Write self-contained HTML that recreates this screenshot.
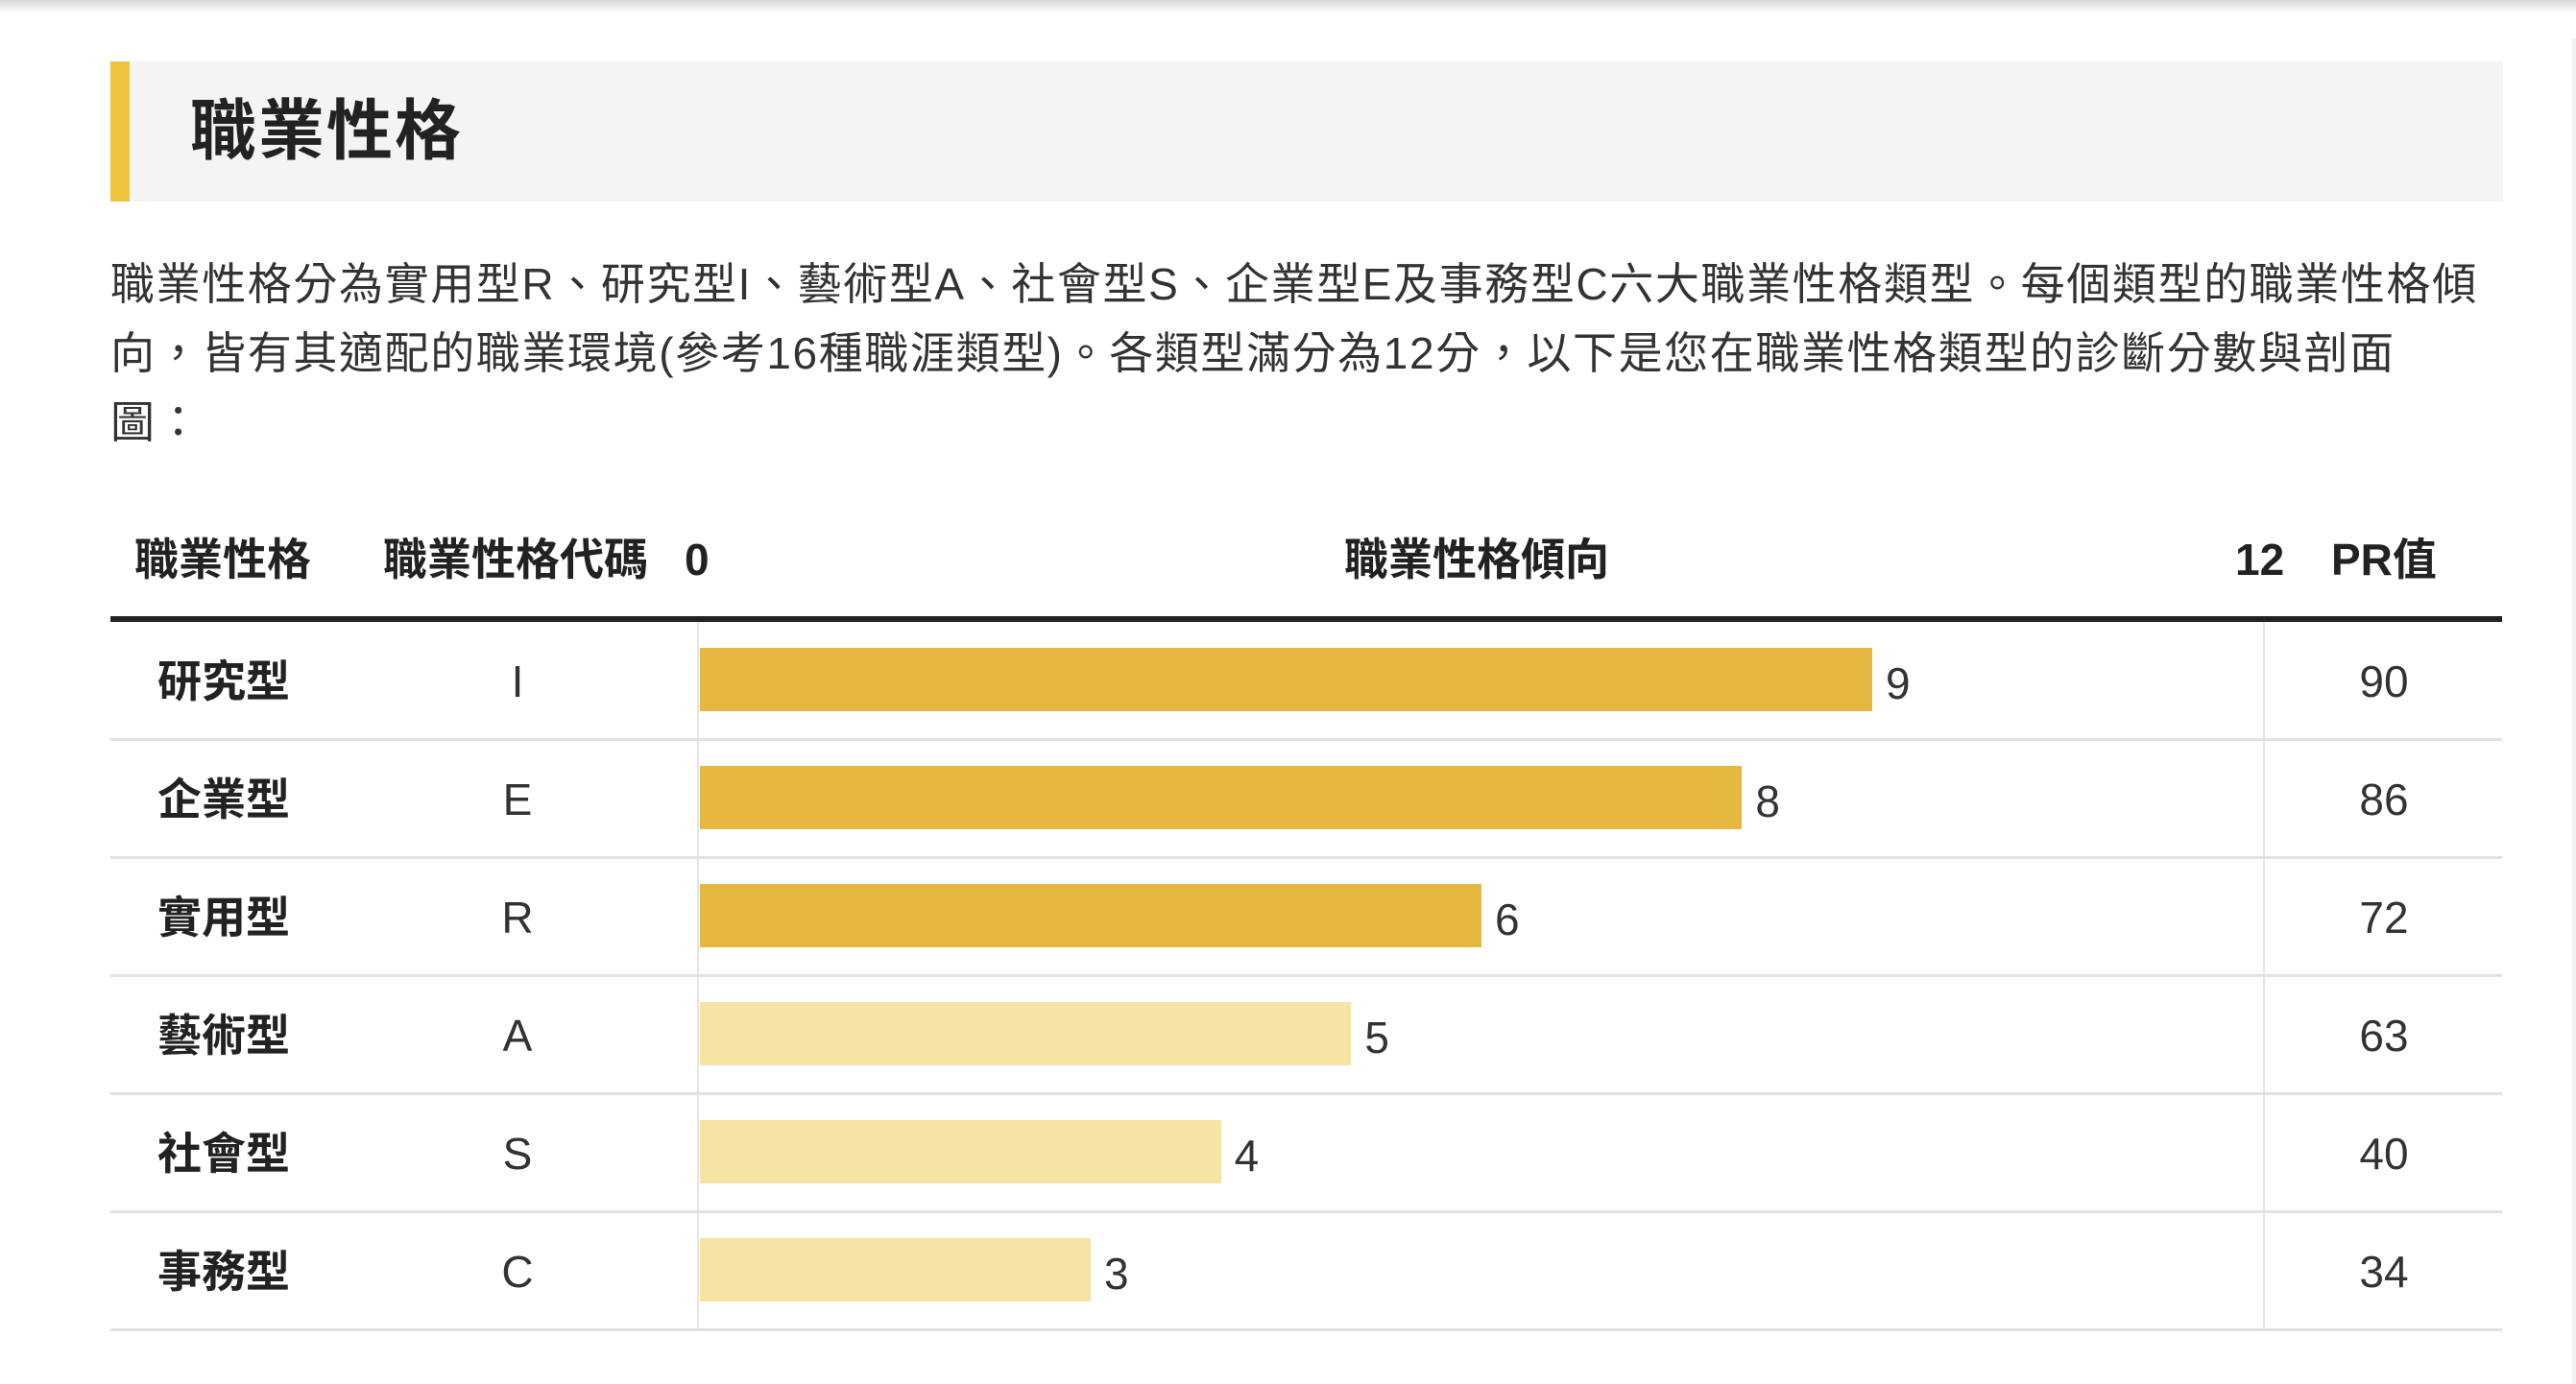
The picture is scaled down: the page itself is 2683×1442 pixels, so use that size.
<!DOCTYPE html>
<html><head><meta charset="utf-8">
<style>
html,body{margin:0;padding:0;background:#fff;}
body{width:2683px;height:1442px;position:relative;overflow:hidden;font-family:"Liberation Sans","Noto Sans CJK TC",sans-serif;color:#333;}
.abs{position:absolute;}
#shadow{left:0;top:0;width:2683px;height:14px;background:linear-gradient(#d8d8d8,#fff);}
#rstrip{left:2679px;top:40px;width:4px;height:1402px;background:#f1f1f1;}
#hdr{left:115px;top:64px;width:2492px;height:146px;background:#f4f4f4;}
#hdrbar{left:0;top:0;width:20px;height:146px;background:#efc53e;}
#title{left:83px;top:0;line-height:146px;font-size:69px;font-weight:bold;color:#222;letter-spacing:2px;}
#para{left:115px;top:260px;font-size:46px;line-height:72px;color:#333;white-space:nowrap;letter-spacing:1.6px;}
.th{font-size:46px;font-weight:bold;color:#222;line-height:60px;top:553px;white-space:nowrap;}
#thick{left:115px;top:642px;width:2491px;height:6px;background:#222;}
.vline{top:648px;width:2px;height:738px;background:#e3e5e8;}
.sep{left:115px;width:2491px;height:3px;background:#dfe2e6;}
.cell{font-size:46px;line-height:60px;white-space:nowrap;}
</style></head>
<body>
<div id="shadow" class="abs"></div>
<div id="rstrip" class="abs"></div>
<div id="hdr" class="abs">
  <div id="hdrbar" class="abs"></div>
  <div id="title" class="abs">職業性格</div>
</div>
<div id="para" class="abs">職業性格分為實用型R、研究型I、藝術型A、社會型S、企業型E及事務型C六大職業性格類型。每個類型的職業性格傾<br>向，皆有其適配的職業環境(參考16種職涯類型)。各類型滿分為12分，以下是您在職業性格類型的診斷分數與剖面<br>圖：</div>

<div class="abs th" style="left:140px">職業性格</div>
<div class="abs th" style="left:399px">職業性格代碼</div>
<div class="abs th" style="left:713px">0</div>
<div class="abs th" style="left:1400px">職業性格傾向</div>
<div class="abs th" style="left:2328px">12</div>
<div class="abs th" style="left:2428px">PR值</div>
<div id="thick" class="abs"></div>
<div class="abs vline" style="left:726px"></div>
<div class="abs vline" style="left:2357px"></div>
<div id="rows"></div>

<script>
const types = ["研究型","企業型","實用型","藝術型","社會型","事務型"];
const codes = ["I","E","R","A","S","C"];
const scores = [9,8,6,5,4,3];
const prValues = [90,86,72,63,40,34];
const maxScore = 12;

const x0 = 729, x1 = 2357;
function xScale(v){ return x0 + (x1 - x0) * v / maxScore; }
const rowTop = 648, rowH = 123;
const container = document.getElementById('rows');
function mk(cls, style, text){
  const d = document.createElement('div');
  d.className = 'abs ' + cls;
  d.setAttribute('style', style);
  if (text !== undefined) d.textContent = text;
  container.appendChild(d);
  return d;
}
types.forEach((t, i) => {
  const top = rowTop + i * rowH;
  const color = i < 3 ? '#e5b840' : '#f5e4a3';
  let el;
  el = mk('cell', `left:164px;top:${top+32}px;font-weight:bold;color:#222`, t);
  
  
  el = mk('cell', `left:489px;width:100px;text-align:center;top:${top+32}px`, codes[i]);
  
  
  const bw = xScale(scores[i]) - x0;
  el = mk('', `left:${x0}px;top:${top+27}px;width:${bw}px;height:66px;background:${color}`);
  
  
  el = mk('cell', `left:${x0+bw+14}px;top:${top+34}px`, String(scores[i]));
  
  
  el = mk('cell', `left:2383px;width:200px;text-align:center;top:${top+32}px`, String(prValues[i]));
  
  
  el = mk('sep', `top:${top+rowH-2}px`);
  
  
});
</script>
</body></html>
